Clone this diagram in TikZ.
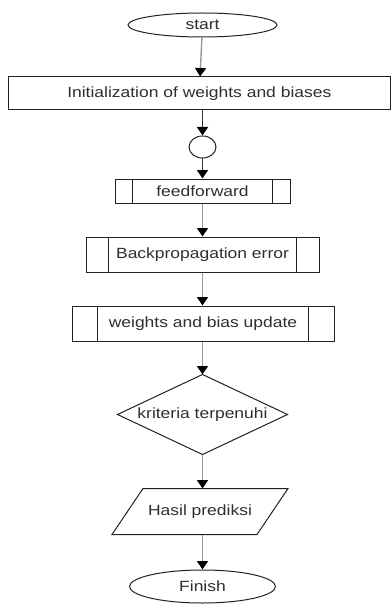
\documentclass[tikz,border=0pt]{standalone}
\usepackage{fontspec}
\setmainfont{Liberation Sans}
\usepackage{graphicx}
\usetikzlibrary{arrows.meta,shapes.geometric,calc}
\newcommand{\hs}[1]{\scalebox{1.18}[1]{#1}}
\definecolor{txtc}{HTML}{2E2E2E}
\definecolor{edgec}{HTML}{222222}
\definecolor{linec}{HTML}{999999}
\begin{document}
\begin{tikzpicture}[x=1pt,y=-1pt,
  base/.style={inner sep=0pt, text=txtc, font=\fontsize{14.8}{16}\selectfont, line width=1pt},
  term/.style={base, draw=edgec, ellipse},
  procbox/.style={base, draw=edgec, rectangle},
  blank/.style={base, rectangle},
  conn/.style={draw=linec, line width=1.4pt, -{Triangle[color=black,width=11pt,length=8.5pt]}},
  darkconn/.style={conn, draw=black!80}
]
\useasboundingbox (0,0) rectangle (391,604);
\node[term, minimum width=149pt, minimum height=24pt] (start) at (202.5,25) {\hs{start}};
\node[procbox, minimum width=382pt, minimum height=33pt] (init) at (199.3,93.5) {\hs{Initialization of weights and biases}};
\node[term, minimum width=27pt, minimum height=22pt] (conn1) at (202.5,147) {};
\node[procbox, minimum width=175pt, minimum height=24pt] (ff) at (202.5,191) {\hs{feedforward}};
\node[procbox, minimum width=233pt, minimum height=35pt] (bp) at (202.5,254.5) {\hs{Backpropagation error}};
\node[procbox, minimum width=262pt, minimum height=35pt] (wu) at (203,323.5) {\hs{weights and bias update}};
\node[blank, minimum width=169pt, minimum height=79pt] (dm) at (202.5,414.5) {\hs{kriteria terpenuhi}};
\node[blank, minimum width=144pt, minimum height=45pt] (hp) at (200,511.5) {\hs{Hasil prediksi}};
\node[term, minimum width=146pt, minimum height=33pt] (fin) at (202.5,586.5) {\hs{Finish}};
% predefined process side bars
\foreach \n/\b in {ff/18, bp/23, wu/26}{
  \draw[edgec, line width=1pt] ($(\n.north west)+(\b,0)$) -- ($(\n.south west)+(\b,0)$);
  \draw[edgec, line width=1pt] ($(\n.north east)+(-\b,0)$) -- ($(\n.south east)+(-\b,0)$);
}
% decision
\draw[edgec, line width=1pt] (dm.north) -- (dm.east) -- (dm.south) -- (dm.west) -- cycle;
% data
\draw[edgec, line width=1pt] ($(hp.north west)+(15.5,0)$) -- ($(hp.north east)+(15.5,0)$) -- ($(hp.south east)+(-15.5,0)$) -- ($(hp.south west)+(-15.5,0)$) -- cycle;
% connectors
\draw[conn] (start) -- (init);
\draw[darkconn] (init.south -| conn1) -- (conn1);
\draw[darkconn] (conn1) -- (ff);
\draw[conn] (ff) -- (bp);
\draw[conn] (bp) -- (wu.north -| bp);
\draw[conn] (wu.south -| bp) -- (dm.north);
\draw[conn] (dm.south) -- (hp.north -| dm.south);
\draw[conn] (hp.south -| fin) -- (fin);
\end{tikzpicture}
\end{document}
